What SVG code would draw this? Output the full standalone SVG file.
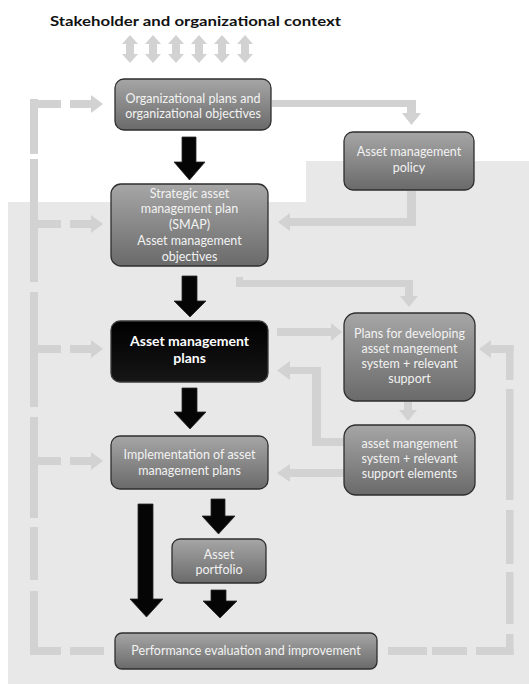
<svg xmlns="http://www.w3.org/2000/svg" width="529" height="684" viewBox="0 0 529 684">
<defs>
<linearGradient id="gg" x1="0" y1="0" x2="0" y2="1">
<stop offset="0" stop-color="#a6a6a6"/>
<stop offset="1" stop-color="#6a6a6a"/>
</linearGradient>
<linearGradient id="gb" x1="0" y1="0" x2="0" y2="1">
<stop offset="0" stop-color="#000000"/>
<stop offset="1" stop-color="#161616"/>
</linearGradient>
</defs>
<style>
.bg{fill:#e8e8e8}
.g{fill:#d2d2d2}
.k{fill:#050505;stroke:#2a2a2a;stroke-width:0.8}
.node{fill:url(#gg);stroke:#2e2e2e;stroke-width:1.3}
.nodeb{fill:url(#gb);stroke:#3a3a3a;stroke-width:1.3}
.t{font-family:Lato,"Open Sans","Liberation Sans",sans-serif;font-size:12.5px;fill:#f2f2f2;text-anchor:middle}
.tb{font-family:Lato,"Open Sans","Liberation Sans",sans-serif;font-size:14px;font-weight:bold;fill:#ffffff;text-anchor:middle}
.title{font-family:Lato,"Open Sans","Liberation Sans",sans-serif;font-size:14px;font-weight:bold;fill:#111111}
</style>
<rect width="529" height="684" fill="#ffffff"/>
<polygon class="bg" points="8,202 306,202 306,161 529,161 529,684 8,684"/>
<text class="title" x="50" y="26" textLength="291" lengthAdjust="spacingAndGlyphs">Stakeholder and organizational context</text>
<g id="connectors">
<g id="stakeholder-arrows" class="g">
<polygon points="130,35 138,44 134,44 134,54 138,54 130,63 122,54 126,54 126,44 122,44"/>
<polygon points="153,35 161,44 157,44 157,54 161,54 153,63 145,54 149,54 149,44 145,44"/>
<polygon points="176,35 184,44 180,44 180,54 184,54 176,63 168,54 172,54 172,44 168,44"/>
<polygon points="199,35 207,44 203,44 203,54 207,54 199,63 191,54 195,54 195,44 191,44"/>
<polygon points="222,35 230,44 226,44 226,54 230,54 222,63 214,54 218,54 218,44 214,44"/>
<polygon points="245,35 253,44 249,44 249,54 253,54 245,63 237,54 241,54 241,44 237,44"/>
</g>
<g id="feedback-loop" class="g">
<rect x="30" y="99" width="8" height="55"/>
<rect x="30" y="159" width="8" height="123"/>
<rect x="30" y="292" width="8" height="115"/>
<rect x="30" y="417" width="8" height="101"/>
<rect x="30" y="527" width="8" height="53"/>
<rect x="30" y="591" width="8" height="64"/>
<rect x="30" y="647" width="31" height="8"/>
<rect x="70" y="647" width="34" height="8"/>
<rect x="388" y="647" width="39" height="8"/>
<rect x="432" y="647" width="35" height="8"/>
<rect x="476" y="647" width="37.5" height="8"/>
<rect x="506" y="345" width="7.5" height="35"/>
<rect x="506" y="389" width="7.5" height="111"/>
<rect x="506" y="510" width="7.5" height="54"/>
<rect x="506" y="572" width="7.5" height="52"/>
<rect x="506" y="634" width="7.5" height="21"/>
<rect x="30" y="100" width="31" height="8"/>
<polygon points="70,100 91,100 91,95 103,104 91,113 91,108 70,108"/>
<rect x="38" y="220" width="23" height="8"/>
<polygon points="70,220 91,220 91,215 103,224 91,233 91,228 70,228"/>
<rect x="38" y="345" width="23" height="8"/>
<polygon points="70,345 91,345 91,340 103,349 91,358 91,353 70,353"/>
<rect x="38" y="457" width="23" height="8"/>
<polygon points="70,457 91,457 91,452 103,461 91,470 91,465 70,465"/>
<polygon points="513.5,345 513.5,353 491,353 491,358 479,349 491,340 491,345"/>
</g>
<g id="gray-arrows" class="g">
<polygon points="272,100 416,100 416,113 421,113 411.5,125 402,113 407,113 407,107 272,107"/>
<polygon points="407,191 416,191 416,226 290,226 290,231 278,222 290,213 290,218 407,218"/>
<polygon points="236,277 243,277 243,280 413,280 413,296 418,296 409,307 400,296 405,296 405,287 236,287"/>
<polygon points="277,328 331,328 331,323 342,332 331,341 331,336 277,336"/>
<polygon points="404,402 412,402 412,410 417,410 408,421 399,410 404,410"/>
<polygon points="344,438 344,446 312,446 312,374 290,374 290,380 277,370.5 290,361 290,367 321,367 321,438"/>
<polygon points="344,469 344,477 290,477 290,482 277,473 290,464 290,469"/>
</g>
<g id="black-arrows" class="k">
<polygon points="182,137 196,137 196,162 205,162 189.5,180 174,162 182,162"/>
<polygon points="182,276 197,276 197,301 206,301 190,317 174,301 182,301"/>
<polygon points="182,388 197,388 197,412 206,412 190,429 174,412 182,412"/>
<polygon points="138,504 153,504 153,599 163,599 146.5,617 130,599 138,599"/>
<polygon points="211,499 225,499 225,516 235,516 218.5,534 202,516 211,516"/>
<polygon points="211,590 226,590 226,601 237,601 220,618 203,601 211,601"/>
</g>
</g>
<g id="node-org-plans">
<rect class="node" x="115" y="79" width="156" height="51" rx="9"/>
<text class="t" x="193" y="103">Organizational plans and</text>
<text class="t" x="193" y="118">organizational objectives</text>
</g>
<g id="node-policy">
<rect class="node" x="344" y="132" width="130" height="58" rx="9"/>
<text class="t" x="409" y="156">Asset management</text>
<text class="t" x="409" y="171.5">policy</text>
</g>
<g id="node-smap">
<rect class="node" x="111" y="184" width="157" height="82" rx="10"/>
<text class="t" x="189.5" y="197.5">Strategic asset</text>
<text class="t" x="189.5" y="213">management plan</text>
<text class="t" x="189.5" y="229">(SMAP)</text>
<text class="t" x="189.5" y="245">Asset management</text>
<text class="t" x="189.5" y="260.5">objectives</text>
</g>
<g id="node-am-plans">
<rect class="nodeb" x="111" y="321" width="157" height="61" rx="9"/>
<text class="tb" x="189.5" y="346">Asset management</text>
<text class="tb" x="189.5" y="362.5">plans</text>
</g>
<g id="node-plans-developing">
<rect class="node" x="344" y="313" width="131" height="88" rx="12"/>
<text class="t" x="409.5" y="337.5">Plans for developing</text>
<text class="t" x="409.5" y="353">asset mangement</text>
<text class="t" x="409.5" y="368">system + relevant</text>
<text class="t" x="409.5" y="383">support</text>
</g>
<g id="node-system">
<rect class="node" x="344" y="425" width="131" height="70" rx="12"/>
<text class="t" x="409.5" y="448">asset mangement</text>
<text class="t" x="409.5" y="463">system + relevant</text>
<text class="t" x="409.5" y="478">support elements</text>
</g>
<g id="node-implementation">
<rect class="node" x="111" y="436" width="157" height="53" rx="9"/>
<text class="t" x="189.5" y="459">Implementation of asset</text>
<text class="t" x="189.5" y="474.5">management plans</text>
</g>
<g id="node-portfolio">
<rect class="node" x="172" y="539" width="94" height="44" rx="8"/>
<text class="t" x="219" y="558.5">Asset</text>
<text class="t" x="219" y="574">portfolio</text>
</g>
<g id="node-performance">
<rect class="node" x="115" y="633" width="262" height="36" rx="7"/>
<text class="t" x="246" y="655">Performance evaluation and improvement</text>
</g>
</svg>
